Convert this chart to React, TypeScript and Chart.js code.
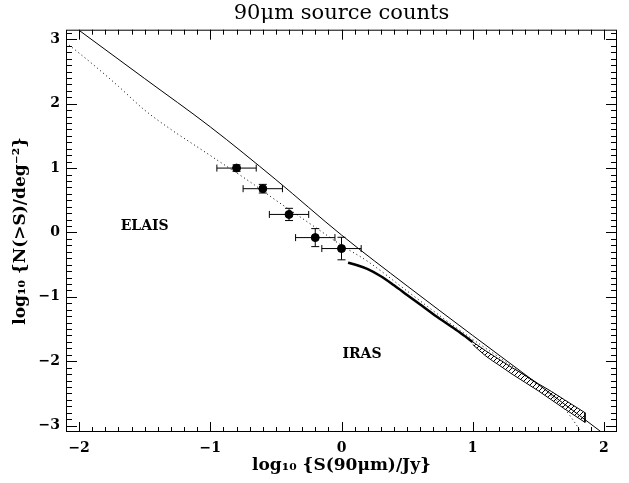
import React, { useEffect, useRef } from "react";
import { Chart, registerables } from "chart.js";

Chart.register(...registerables);

// ---- axis ticks ----
const xTickValues = [-2, -1, 0, 1, 2];
const yTickValues = [-3, -2, -1, 0, 1, 2, 3];

// ---- model (solid) ----
const modelX = [-2.0, -1.5, -1.0, -0.5, 0.0, 0.5, 1.0, 1.5, 2.0];
const modelY = [3.14, 2.39, 1.64, 0.82, -0.04, -0.83, -1.6, -2.36, -3.13];

// ---- model (dotted) ----
const dottedX = [-2.1, -1.9, -1.7, -1.5, -1.3, -1.1, -0.9, -0.7, -0.5, -0.3, -0.1, 0.0, 0.2, 0.5, 0.8, 1.0, 1.3, 1.5, 1.6, 1.7, 1.8, 1.85];
const dottedY = [2.95, 2.62, 2.27, 1.9, 1.6, 1.33, 1.06, 0.79, 0.5, 0.22, -0.06, -0.2, -0.45, -0.91, -1.37, -1.66, -2.08, -2.38, -2.54, -2.74, -3.02, -3.2];

// ---- IRAS thick line ----
const irasX = [0.05, 0.12, 0.2, 0.3, 0.4, 0.5, 0.6, 0.7, 0.8, 0.9, 1.0];
const irasY = [-0.47, -0.51, -0.57, -0.68, -0.82, -0.97, -1.12, -1.27, -1.41, -1.55, -1.7];

// ---- IRAS hatched band ----
const bandX = [1.0, 1.1, 1.2, 1.3, 1.4, 1.5, 1.6, 1.7, 1.856];
const bandUpper = [-1.7, -1.84, -1.97, -2.1, -2.22, -2.35, -2.47, -2.6, -2.8];
const bandLower = [-1.74, -1.92, -2.06, -2.2, -2.33, -2.46, -2.6, -2.74, -2.95];

// ---- ELAIS points ----
const elaisX = [-0.8, -0.6, -0.4, -0.2, 0.0];
const elaisY = [1.0, 0.68, 0.28, -0.08, -0.25];
const elaisXErr = [0.15, 0.15, 0.15, 0.15, 0.15];
const elaisYErr = [0.05, 0.067, 0.095, 0.14, 0.175];

// ---- text labels ----
const labelTexts = ["ELAIS", "IRAS"];
const labelX = [-1.5, 0.156];
const labelY = [0.09, -1.89];

const FONT = "'DejaVu Serif', serif";

const pts = (xs: number[], ys: number[]) => xs.map((x, i) => ({ x, y: ys[i] }));
const fmt = (v: number) => (v < 0 ? "\u2212" + Math.abs(v) : String(v));

export default function App() {
  const ref = useRef<HTMLCanvasElement>(null);

  useEffect(() => {
    const canvas = ref.current!;
    const ctx0 = canvas.getContext("2d")!;

    // hatch pattern
    const pc = document.createElement("canvas");
    pc.width = 5;
    pc.height = 5;
    const p = pc.getContext("2d")!;
    p.strokeStyle = "#000";
    p.lineWidth = 1;
    p.beginPath();
    p.moveTo(-1, 6);
    p.lineTo(6, -1);
    p.stroke();
    const hatch = ctx0.createPattern(pc, "repeat")!;

    const framePlugin = {
      id: "frame",
      afterDatasetsDraw(chart: any) {
        const { ctx, chartArea: a, scales } = chart;
        const xs = scales.x;
        const ys = scales.y;
        ctx.save();
        ctx.strokeStyle = "#000";
        ctx.fillStyle = "#000";
        ctx.lineWidth = 1;
        // error bars
        for (let i = 0; i < elaisX.length; i++) {
          const cx = xs.getPixelForValue(elaisX[i]);
          const cy = ys.getPixelForValue(elaisY[i]);
          const x0 = xs.getPixelForValue(elaisX[i] - elaisXErr[i]);
          const x1 = xs.getPixelForValue(elaisX[i] + elaisXErr[i]);
          const y0 = ys.getPixelForValue(elaisY[i] - elaisYErr[i]);
          const y1 = ys.getPixelForValue(elaisY[i] + elaisYErr[i]);
          ctx.beginPath();
          ctx.moveTo(x0, cy);
          ctx.lineTo(x1, cy);
          ctx.moveTo(x0, cy - 3.5);
          ctx.lineTo(x0, cy + 3.5);
          ctx.moveTo(x1, cy - 3.5);
          ctx.lineTo(x1, cy + 3.5);
          ctx.moveTo(cx, y0);
          ctx.lineTo(cx, y1);
          ctx.moveTo(cx - 4, y0);
          ctx.lineTo(cx + 4, y0);
          ctx.moveTo(cx - 4, y1);
          ctx.lineTo(cx + 4, y1);
          ctx.stroke();
        }
        // frame
        ctx.strokeRect(a.left + 0.5, a.top + 0.5, a.right - a.left - 1, a.bottom - a.top - 1);
        // x ticks
        ctx.beginPath();
        for (let i = -21; i <= 21; i++) {
          const v = i / 10;
          const px = Math.round(xs.getPixelForValue(v)) + 0.5;
          if (px < a.left + 1 || px > a.right - 1) continue;
          const len = i % 10 === 0 ? 10 : 5;
          ctx.moveTo(px, a.bottom);
          ctx.lineTo(px, a.bottom - len);
          ctx.moveTo(px, a.top);
          ctx.lineTo(px, a.top + len);
        }
        // y ticks
        for (let i = -31; i <= 31; i++) {
          const v = i / 10;
          const py = Math.round(ys.getPixelForValue(v)) + 0.5;
          if (py < a.top + 1 || py > a.bottom - 1) continue;
          const len = i % 10 === 0 ? 11 : 6;
          ctx.moveTo(a.left, py);
          ctx.lineTo(a.left + len, py);
          ctx.moveTo(a.right, py);
          ctx.lineTo(a.right - len, py);
        }
        ctx.stroke();
        // labels
        ctx.font = "bold 14px " + FONT;
        ctx.textAlign = "center";
        ctx.textBaseline = "middle";
        for (let i = 0; i < labelTexts.length; i++) {
          ctx.fillText(labelTexts[i], xs.getPixelForValue(labelX[i]), ys.getPixelForValue(labelY[i]));
        }
        ctx.restore();
      },
    };

    const line = (data: any, extra: any = {}) => ({
      data,
      borderColor: "#000",
      borderWidth: 1,
      pointRadius: 0,
      fill: false,
      cubicInterpolationMode: "monotone",
      ...extra,
    });

    const last = bandX.length - 1;

    const chart = new Chart(canvas, {
      type: "line",
      data: {
        datasets: [
          line(pts(modelX, modelY)),
          line(pts(dottedX, dottedY), { borderDash: [1, 3] }),
          line(pts(irasX, irasY), { borderWidth: 2.5 }),
          line(pts(bandX, bandUpper)),
          line(pts(bandX, bandLower), { fill: "-1", backgroundColor: hatch }),
          line(pts([bandX[last], bandX[last]], [bandUpper[last], bandLower[last]]), { cubicInterpolationMode: "default" }),
          {
            data: pts(elaisX, elaisY),
            showLine: false,
            pointRadius: 4,
            pointBackgroundColor: "#000",
            pointBorderColor: "#000",
            borderColor: "#000",
          },
        ] as any,
      },
      options: {
        responsive: false,
        devicePixelRatio: 1,
        animation: false,
        events: [],
        layout: { padding: { left: 0, right: 12, top: 0, bottom: 0 } },
        plugins: {
          legend: { display: false },
          tooltip: { enabled: false },
          title: {
            display: true,
            text: "90\u03bcm source counts",
            fullSize: false,
            color: "#000",
            font: { family: FONT, size: 21, weight: "normal" },
            padding: { top: 1, bottom: 3.5 },
          },
        },
        scales: {
          x: {
            type: "linear",
            min: -2.1,
            max: 2.1,
            grid: { display: false, drawTicks: false },
            border: { display: false },
            afterBuildTicks: (s: any) => {
              s.ticks = xTickValues.map((v) => ({ value: v }));
            },
            afterFit: (s: any) => {
              s.height = 51;
            },
            ticks: {
              color: "#000",
              font: { family: FONT, size: 14, weight: "bold" },
              padding: 8,
              maxRotation: 0,
              autoSkip: false,
              callback: (v: any) => fmt(Number(v)),
            },
            title: {
              display: true,
              text: "log\u2081\u2080 {S(90\u03bcm)/Jy}",
              color: "#000",
              font: { family: FONT, size: 17, weight: "bold" },
              padding: { top: 0, bottom: 7 },
            },
          },
          y: {
            type: "linear",
            min: -3.1,
            max: 3.15,
            grid: { display: false, drawTicks: false },
            border: { display: false },
            afterBuildTicks: (s: any) => {
              s.ticks = yTickValues.map((v) => ({ value: v }));
            },
            afterFit: (s: any) => {
              s.width = 66;
            },
            ticks: {
              color: "#000",
              font: { family: FONT, size: 14, weight: "bold" },
              padding: 6,
              autoSkip: false,
              callback: (v: any) => fmt(Number(v)),
            },
            title: {
              display: true,
              text: "log\u2081\u2080 {N(>S)/deg\u207b\u00b2}",
              color: "#000",
              font: { family: FONT, size: 17, weight: "bold" },
              padding: { top: 10, bottom: 0 },
            },
          },
        },
      } as any,
      plugins: [framePlugin],
    });

    return () => chart.destroy();
  }, []);

  return (
    <div style={{ position: "fixed", left: 0, top: 0, width: 629, height: 483, background: "#fff" }}>
      <canvas ref={ref} width={629} height={483} style={{ display: "block", width: 629, height: 483 }} />
    </div>
  );
}
